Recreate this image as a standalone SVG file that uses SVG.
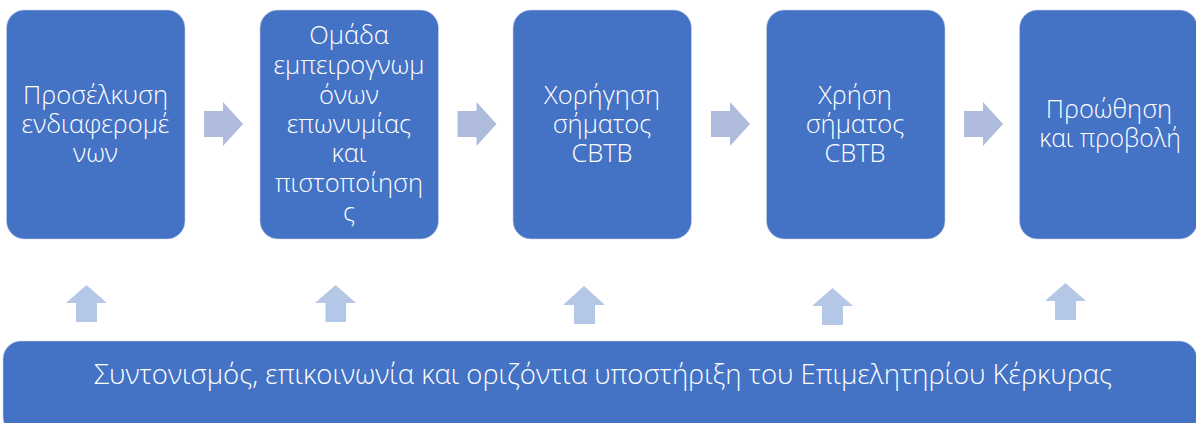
<svg xmlns="http://www.w3.org/2000/svg" width="1196" height="423" viewBox="0 0 1196 423">
<style>
.box{fill:#4472c4;stroke:#c9d3ea;stroke-width:.6}
.t{font-family:"Open Sans","Noto Sans","Liberation Sans",sans-serif;font-size:25.500px;font-weight:300;fill:#fff;text-anchor:middle}
.ra{fill:#aebbdd}
.ua{fill:#b4c7e7}
</style>
<rect width="1196" height="423" fill="#fff"/>
<g id="connectors">
<path class="ra" d="M204 111H223V102L243 124L223 146V137H204Z"/>
<path class="ra" d="M457.500 111H476.500V102L496.500 124L476.500 146V137H457.500Z"/>
<path class="ra" d="M711 111H730V102L750 124L730 146V137H711Z"/>
<path class="ra" d="M964 111H983V102L1003 124L983 146V137H964Z"/>
<path class="ua" d="M76 322V303H66L86.500 285L107 303H97V322Z"/>
<path class="ua" d="M325.500 322V303H315L335.500 285L356 303H346V322Z"/>
<path class="ua" d="M574 324V305H563L584 286L605 305H595V324Z"/>
<path class="ua" d="M822 325V306H812L832.500 288L853 306H843V325Z"/>
<path class="ua" d="M1055 320V301H1045L1065.500 283L1086 301H1076V320Z"/>
</g>
<g id="n1"><rect class="box" x="6.500" y="10" width="178.500" height="229" rx="18"/>
<text class="t" x="95.500" y="104">Προσέλκυση</text><text class="t" x="95.500" y="133">ενδιαφερομέ</text><text class="t" x="95.500" y="162">νων</text></g>
<g id="n2"><rect class="box" x="260" y="10" width="178.500" height="229" rx="18"/>
<text class="t" x="349" y="44">Ομάδα</text><text class="t" x="349" y="74">εμπειρογνωμ</text><text class="t" x="349" y="104">όνων</text><text class="t" x="349" y="133">επωνυμίας</text><text class="t" x="349" y="162">και</text><text class="t" x="349" y="192">πιστοποίηση</text><text class="t" x="349" y="221">ς</text></g>
<g id="n3"><rect class="box" x="513" y="10" width="178.500" height="229" rx="18"/>
<text class="t" x="602" y="104">Χορήγηση</text><text class="t" x="602" y="133">σήματος</text><text class="t" x="602" y="162">CBTB</text></g>
<g id="n4"><rect class="box" x="766.500" y="10" width="178.500" height="229" rx="18"/>
<text class="t" x="855" y="104">Χρήση</text><text class="t" x="855" y="133">σήματος</text><text class="t" x="855" y="162">CBTB</text></g>
<g id="n5"><rect class="box" x="1019.500" y="10" width="178" height="229" rx="18"/>
<text class="t" x="1109" y="118">Προώθηση</text><text class="t" x="1110" y="147" style="font-size:24.800px">και προβολή</text></g>
<g id="n6"><rect class="box" x="3" y="341" width="1194" height="94" rx="18"/>
<text class="t" x="603" y="384" style="font-size:27.500px">Συντονισμός, επικοινωνία και οριζόντια υποστήριξη του Επιμελητηρίου Κέρκυρας</text></g>
</svg>
